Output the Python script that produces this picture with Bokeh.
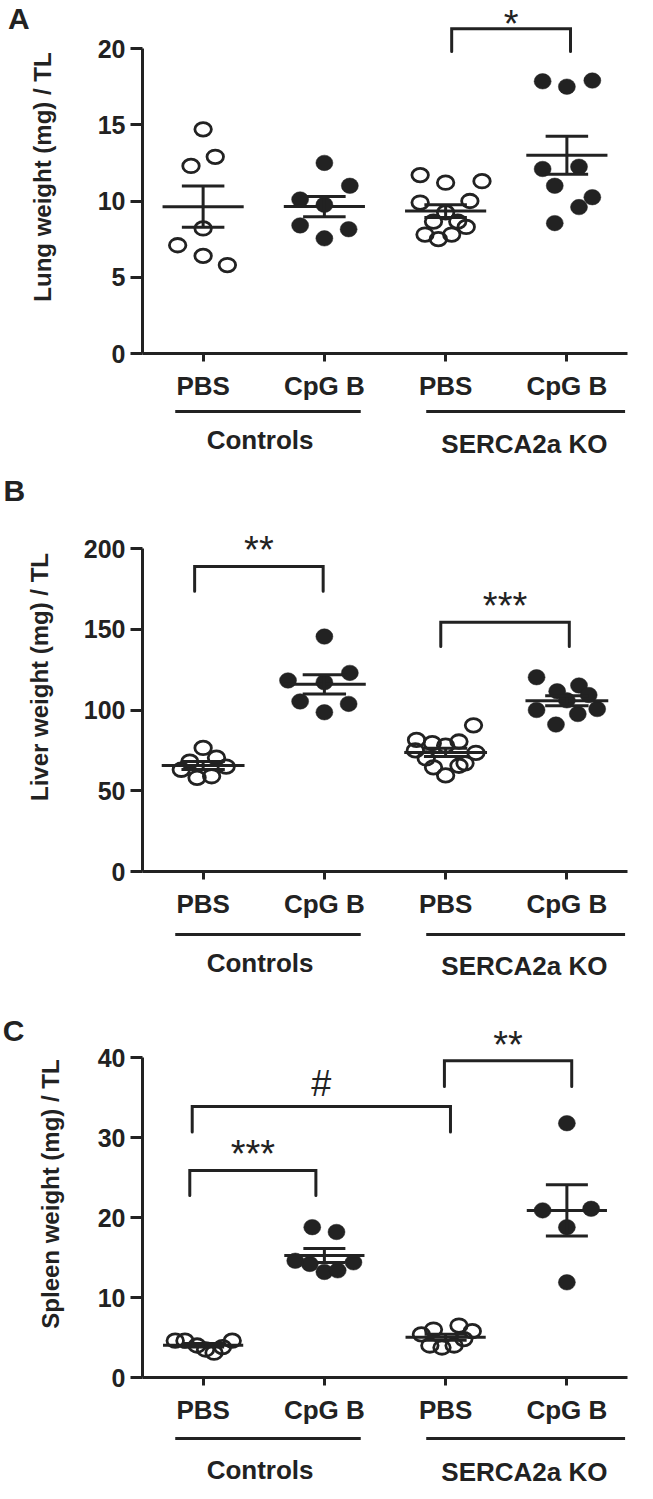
import numpy as np
from bokeh.plotting import figure
from bokeh.models import Range1d, FixedTicker, Label
from bokeh.layouts import column
from bokeh.embed import file_html
from bokeh.resources import INLINE
from bokeh.core.properties import value

# ---------------- data ----------------
tick_labels = ["PBS", "CpG B", "PBS", "CpG B"]
group_names = ["Controls", "SERCA2a KO"]
filled = [False, True, False, True]

# Panel A: lung weight (mg) / TL
lung_pbs_ctrl = [14.7, 12.9, 12.3, 8.2, 7.1, 6.4, 5.8]
lung_cpg_ctrl = [12.5, 11.0, 10.1, 9.75, 8.4, 8.15, 7.55]
lung_pbs_ko = [11.7, 11.3, 11.2, 10.0, 9.9, 9.25, 8.65, 8.65, 8.3, 7.8, 7.8, 7.5]
lung_cpg_ko = [17.85, 17.5, 17.9, 12.1, 12.25, 11.0, 10.25, 9.6, 8.55]
# horizontal scatter spread of the points (category units)
lung_spread = [
    [0, 0.10, -0.10, 0, -0.21, 0, 0.20],
    [0, 0.21, -0.20, 0, -0.20, 0.20, 0],
    [-0.21, 0.30, 0, 0.20, -0.21, 0, -0.10, 0.10, 0.17, -0.17, 0.05, -0.06],
    [-0.20, 0, 0.21, -0.20, 0.10, -0.10, 0.21, 0.10, -0.10],
]

# Panel B: liver weight (mg) / TL
liver_pbs_ctrl = [76.5, 70.5, 68.0, 65.0, 63.0, 59.0, 58.0]
liver_cpg_ctrl = [145.5, 118.3, 123.0, 117.2, 105.3, 103.8, 98.6]
liver_pbs_ko = [90.5, 81.5, 80.5, 79.5, 78.0, 75.0, 73.5, 70.0, 67.0, 65.5, 64.5, 59.5]
liver_cpg_ko = [120.3, 111.6, 115.2, 109.3, 106.0, 100.0, 97.5, 100.6, 91.0]
liver_spread = [
    [0, 0.11, -0.11, 0.19, -0.18, 0.07, -0.05],
    [0, -0.30, 0.21, 0, -0.20, 0.20, 0],
    [0.23, -0.24, 0.11, -0.11, 0, -0.25, 0.25, -0.16, 0.16, 0.11, -0.10, 0],
    [-0.25, -0.08, 0.10, 0.18, 0, -0.25, 0.09, 0.25, -0.09],
]

# Panel C: spleen weight (mg) / TL
spleen_pbs_ctrl = [4.6, 4.6, 4.0, 3.5, 3.1, 3.8, 4.6]
spleen_cpg_ctrl = [18.8, 18.2, 14.6, 14.2, 14.4, 13.2, 13.4]
spleen_pbs_ko = [5.4, 6.0, 6.5, 5.8, 4.0, 3.75, 4.0, 4.8]
spleen_cpg_ko = [31.8, 20.9, 21.1, 18.8, 11.9]
spleen_spread = [
    [-0.23, -0.15, -0.05, 0.02, 0.09, 0.16, 0.24],
    [-0.10, 0.10, -0.24, -0.12, 0.24, 0, 0.11],
    [-0.20, -0.10, 0.11, 0.22, -0.13, -0.03, 0.07, 0.15],
    [0, -0.20, 0.20, 0, 0],
]

# significance brackets: (from x, to x, top y, leg-end y, label)
lung_brackets = [(3.05, 4.03, 21.3, 19.8, "*")]
liver_brackets = [(0.93, 1.99, 188.9, 173.6, "**"), (2.96, 4.02, 154.3, 139.3, "***")]
spleen_brackets = [(0.89, 1.93, 25.9, 22.75, "***"), (0.91, 3.04, 33.9, 30.7, "#"),
                   (2.99, 4.04, 39.6, 36.4, "**")]

lung_ticks = [0, 5, 10, 15, 20]
liver_ticks = [0, 50, 100, 150, 200]
spleen_ticks = [0, 10, 20, 30, 40]

# group underline extents and group label centres (category units)
group_spans = [(0.77, 2.30), (2.84, 4.48)]
group_centres = [1.47, 3.65]

# ---------------- style ----------------
INK = "#222222"
FONT = "Liberation Sans"
W = 653
AXIS_BORDER = 52


def make_panel(letter, ylabel, groups, spread, ticks, brackets,
               frame_h, top_border, y_end, left_border, right_border,
               title_standoff, letter_pos):
    fig_h = frame_h + top_border + AXIS_BORDER
    frame_w = W - left_border - right_border
    ppu_y = frame_h / y_end
    ppu_x = frame_w / 4.0

    p = figure(width=W, height=fig_h, x_range=Range1d(0.5, 4.5), y_range=Range1d(0, y_end),
               output_backend="svg", toolbar_location=None,
               min_border_top=top_border, min_border_bottom=AXIS_BORDER,
               min_border_left=left_border, min_border_right=right_border)
    p.grid.visible = False
    p.outline_line_color = None

    xa = p.xaxis[0]
    xa.ticker = FixedTicker(ticks=[1, 2, 3, 4])
    xa.major_label_overrides = {i + 1: t for i, t in enumerate(tick_labels)}
    ya = p.yaxis[0]
    ya.ticker = FixedTicker(ticks=ticks)
    ya.bounds = (ticks[0], ticks[-1])
    ya.axis_label = ylabel
    for ax in (xa, ya):
        ax.axis_line_width = 3
        ax.axis_line_color = INK
        ax.major_tick_line_width = 3
        ax.major_tick_line_color = INK
        ax.major_tick_in = 0
        ax.minor_tick_line_color = None
        ax.major_label_text_font = FONT
        ax.major_label_text_font_style = "bold"
        ax.major_label_text_color = INK
    xa.major_tick_out = 8
    xa.major_label_text_font_size = "26px"
    xa.major_label_standoff = 9
    ya.major_tick_out = 12
    ya.major_label_text_font_size = "25px"
    ya.major_label_standoff = 5
    ya.axis_label_text_font = FONT
    ya.axis_label_text_font_style = "bold"
    ya.axis_label_text_font_size = "24px"
    ya.axis_label_text_color = INK
    ya.axis_label_standoff = title_standoff

    # points
    for i, (vals, dx) in enumerate(zip(groups, spread)):
        xs = [i + 1 + d for d in dx]
        if filled[i]:
            p.ellipse(xs, vals, width=17, height=15.5, width_units="screen",
                      height_units="screen", fill_color=INK, line_color=INK, line_width=0.5)
        else:
            p.ellipse(xs, vals, width=16.5, height=13.5, width_units="screen",
                      height_units="screen", fill_alpha=0, line_color=INK, line_width=2.8)

    # mean +/- SEM
    mh = 42 / ppu_x
    ch = 22 / ppu_x
    x0s, y0s, x1s, y1s = [], [], [], []
    for i, vals in enumerate(groups):
        a = np.array(vals, dtype=float)
        m = a.mean()
        s = a.std(ddof=1) / np.sqrt(len(a))
        c = i + 1
        x0s += [c - mh, c, c - ch, c - ch]
        x1s += [c + mh, c, c + ch, c + ch]
        y0s += [m, m - s, m + s, m - s]
        y1s += [m, m + s, m + s, m - s]
    p.segment(x0s, y0s, x1s, y1s, line_color=INK, line_width=3)

    # brackets
    bx, by = [], []
    for (b0, b1, top, leg, lab) in brackets:
        bx.append([b0, b0, b1, b1])
        by.append([leg, top, top, leg])
        if lab == "#":
            off, size = 23, "36px"
        else:
            off, size = 16, "38px"
        room = (y_end - top) * ppu_y  # px between bracket and frame top
        off = min(off, room - 23)
        p.add_layout(Label(x=(b0 + b1) / 2, y=top, y_offset=off, text=lab,
                           text_align="center", text_baseline="middle",
                           text_font=FONT, text_font_size=size, text_color=INK))
    p.multi_line(bx, by, line_color=INK, line_width=3, line_join="miter", line_cap="round")

    # panel letter (page x of centre, px above the x axis for the baseline)
    lx = (letter_pos[0] - left_border) / ppu_x + 0.5
    ly = letter_pos[1] / ppu_y
    p.add_layout(Label(x=lx, y=ly, text=letter, text_align="center", text_baseline="alphabetic",
                       text_font=FONT, text_font_size="30px", text_font_style="bold",
                       text_color=INK), "left")

    return p


def make_groups(p, height, left_border, right_border, line_px, label_px):
    """Row under the x axis: group underlines and group names (px below the axis)."""
    g = figure(width=W, height=height, x_range=p.x_range, y_range=Range1d(height, 0),
               output_backend="svg", toolbar_location=None,
               x_axis_location=None, y_axis_location=None,
               min_border_top=0, min_border_bottom=0,
               min_border_left=left_border, min_border_right=right_border)
    g.grid.visible = False
    g.outline_line_color = None
    line_y = line_px - AXIS_BORDER
    g.segment([s[0] for s in group_spans], [line_y] * 2, [s[1] for s in group_spans],
              [line_y] * 2, line_color=INK, line_width=3)
    g.text(group_centres, [lp - AXIS_BORDER for lp in label_px], text=group_names,
           text_font=value(FONT), text_font_size=value("26px"), text_font_style="bold",
           text_align="center", text_baseline="middle", text_color=INK)
    return g


pA = make_panel("A", "Lung weight (mg) / TL",
                [lung_pbs_ctrl, lung_cpg_ctrl, lung_pbs_ko, lung_cpg_ko], lung_spread,
                lung_ticks, lung_brackets,
                frame_h=353, top_border=0, y_end=23.15,
                left_border=133, right_border=18, title_standoff=39, letter_pos=(5, 335))
gA = make_groups(pA, 475 - 405, 133, 18, 58, [86, 90])
pB = make_panel("B", "Liver weight (mg) / TL",
                [liver_pbs_ctrl, liver_cpg_ctrl, liver_pbs_ko, liver_cpg_ko], liver_spread,
                liver_ticks, liver_brackets,
                frame_h=389, top_border=7, y_end=240.9,
                left_border=135, right_border=26, title_standoff=28, letter_pos=(5, 381))
gB = make_groups(pB, 1005 - 923, 135, 26, 63, [91, 94])
pC = make_panel("C", "Spleen weight (mg) / TL",
                [spleen_pbs_ctrl, spleen_cpg_ctrl, spleen_pbs_ko, spleen_cpg_ko], spleen_spread,
                spleen_ticks, spleen_brackets,
                frame_h=367, top_border=5, y_end=45.9,
                left_border=140, right_border=5, title_standoff=31, letter_pos=(5, 347))
gC = make_groups(pC, 1499 - 1429, 140, 5, 61, [92, 94])

layout = column(pA, gA, pB, gB, pC, gC, spacing=0)
open("out.html", "w").write(file_html(layout, INLINE))
